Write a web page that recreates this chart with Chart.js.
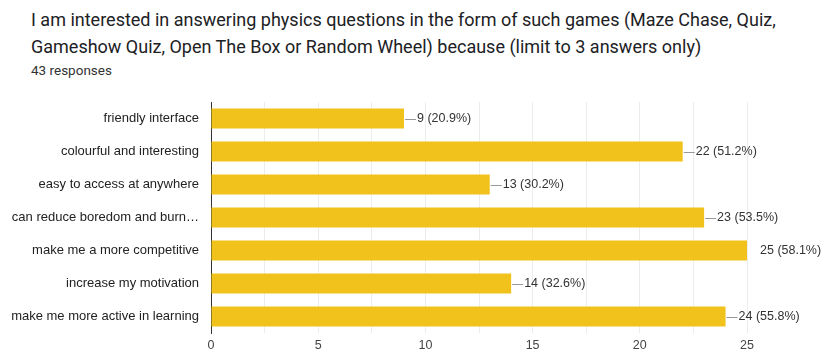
<!DOCTYPE html>
<html>
<head>
<meta charset="utf-8">
<script src="https://cdn.jsdelivr.net/npm/chart.js@4"></script>
<style>
  body { margin: 0; background: #fff; }
  #wrap { position: relative; width: 827px; height: 352px; }
  .title { position: absolute; left: 31px; font-family: Roboto, sans-serif; color: #202124; white-space: nowrap; }
  #t1 { top: 9px; font-size: 18px; }
  #t2 { top: 36px; font-size: 18px; }
  #t3 { top: 62px; font-size: 13.5px; color: #333; }
  canvas { position: absolute; left: 0; top: 0; }
</style>
</head>
<body>
<div id="wrap">
  <div class="title" id="t1">I am interested in answering physics questions in the form of such games (Maze Chase, Quiz,</div>
  <div class="title" id="t2">Gameshow Quiz, Open The Box or Random Wheel) because (limit to 3 answers only)</div>
  <div class="title" id="t3">43 responses</div>
  <canvas id="chart" width="827" height="352"></canvas>
</div>
<script>
const categories = [
  "friendly interface",
  "colourful and interesting",
  "easy to access at anywhere",
  "can reduce boredom and burn…",
  "make me a more competitive",
  "increase my motivation",
  "make me more active in learning"
];
const counts = [9, 22, 13, 23, 25, 14, 24];
const percents = ["20.9%", "51.2%", "30.2%", "53.5%", "58.1%", "32.6%", "55.8%"];
const xTicks = [0, 5, 10, 15, 20, 25];

const labelFont = '12.5px "Liberation Sans", Arial, sans-serif';

// leader line + "n (p%)" after each bar
const barLabels = {
  id: 'barLabels',
  afterDatasetsDraw(chart) {
    const ctx = chart.ctx;
    const meta = chart.getDatasetMeta(0);
    ctx.save();
    ctx.font = labelFont;
    ctx.textBaseline = 'middle';
    meta.data.forEach((bar, i) => {
      const x = bar.x, y = bar.y;
      if (x < chart.chartArea.right - 1) {
        ctx.strokeStyle = '#999';
        ctx.lineWidth = 1;
        ctx.beginPath();
        ctx.moveTo(x + 1, Math.round(y) + 0.5);
        ctx.lineTo(x + 12, Math.round(y) + 0.5);
        ctx.stroke();
      }
      ctx.fillStyle = '#333';
      ctx.fillText(counts[i] + ' (' + percents[i] + ')', x + 13, y);
    });
    ctx.restore();
  }
};

new Chart(document.getElementById('chart'), {
  type: 'bar',
  data: {
    labels: categories,
    datasets: [{
      data: counts,
      backgroundColor: '#f1c21b',
      borderWidth: 0,
      barPercentage: 0.61,
      categoryPercentage: 1
    }]
  },
  plugins: [barLabels],
  options: {
    indexAxis: 'y',
    responsive: false,
    animation: false,
    layout: { padding: { top: 102, right: 80, left: 0, bottom: 0 } },
    plugins: { legend: { display: false }, tooltip: { enabled: false } },
    scales: {
      x: {
        min: 0,
        max: 25,
        afterFit(scale) { scale.height = 19; },
        afterBuildTicks(scale) {
          const t = [];
          for (let v = 0; v <= 25; v += 2.5) t.push({ value: v });
          scale.ticks = t;
        },
        ticks: {
          padding: 5,
          color: '#444',
          font: { size: 12.5, family: '"Liberation Sans", Arial, sans-serif' },
          callback: v => xTicks.includes(v) ? v : ''
        },
        grid: { color: '#ececec', drawTicks: false },
        border: { display: false }
      },
      y: {
        afterFit(scale) { scale.width = 211; },
        ticks: {
          padding: 4,
          color: '#222',
          font: { size: 13, family: '"Liberation Sans", Arial, sans-serif' }
        },
        grid: { display: false },
        border: { color: '#333', width: 1 }
      }
    }
  }
});
</script>
</body>
</html>
